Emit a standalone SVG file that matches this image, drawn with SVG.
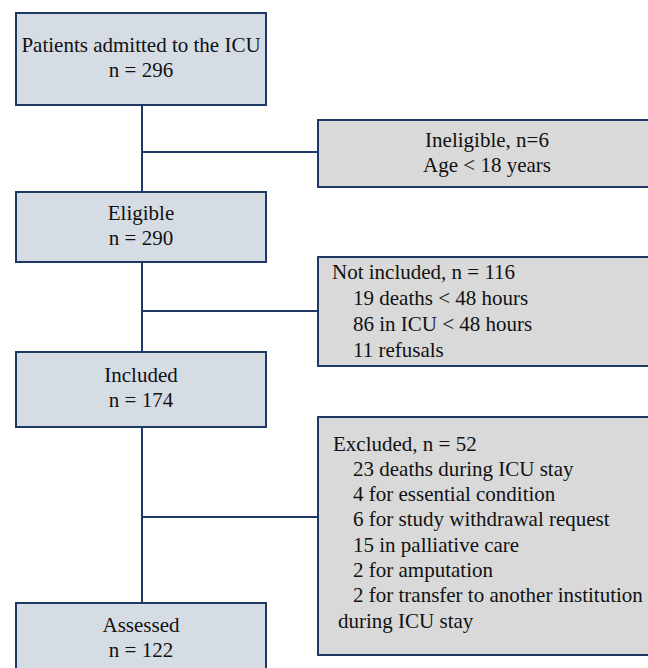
<svg xmlns="http://www.w3.org/2000/svg" width="648" height="668" viewBox="0 0 648 668">
<style>
text{font-family:"Liberation Serif","DejaVu Serif",serif;font-size:21px;fill:#111}
.c{text-anchor:middle}
.main{fill:#d6dce4;stroke:#1f3864;stroke-width:2}
.side{fill:#d9d9d9;stroke:#1f3864;stroke-width:2}
.ln{stroke:#1f3864;stroke-width:2;fill:none}
</style>
<rect width="648" height="668" fill="#fff"/>
<g id="connectors">
<line class="ln" x1="142" y1="105" x2="142" y2="603"/>
<line class="ln" x1="142" y1="152" x2="318" y2="152"/>
<line class="ln" x1="142" y1="311" x2="318" y2="311"/>
<line class="ln" x1="142" y1="517" x2="318" y2="517"/>
</g>
<g id="admitted">
<rect class="main" x="16" y="13" width="250" height="92"/>
<text class="c" x="141" y="52">Patients admitted to the ICU</text>
<text class="c" x="141" y="77">n = 296</text>
</g>
<g id="ineligible">
<rect class="side" x="318" y="120" width="340" height="67"/>
<text class="c" x="487" y="147">Ineligible, n=6</text>
<text class="c" x="487" y="172">Age &lt; 18 years</text>
</g>
<g id="eligible">
<rect class="main" x="16" y="192" width="250" height="70"/>
<text class="c" x="141" y="220">Eligible</text>
<text class="c" x="141" y="245">n = 290</text>
</g>
<g id="notincluded">
<rect class="side" x="318" y="257" width="340" height="109"/>
<text x="332" y="279">Not included, n = 116</text>
<text x="353" y="305">19 deaths &lt; 48 hours</text>
<text x="353" y="331">86 in ICU &lt; 48 hours</text>
<text x="353" y="357">11 refusals</text>
</g>
<g id="included">
<rect class="main" x="16" y="352" width="250" height="75"/>
<text class="c" x="141" y="382">Included</text>
<text class="c" x="141" y="407">n = 174</text>
</g>
<g id="excluded">
<rect class="side" x="318" y="417" width="340" height="238"/>
<text x="333" y="451">Excluded, n = 52</text>
<text x="353" y="476">23 deaths during ICU stay</text>
<text x="353" y="501">4 for essential condition</text>
<text x="353" y="526">6 for study withdrawal request</text>
<text x="353" y="552">15 in palliative care</text>
<text x="353" y="577">2 for amputation</text>
<text x="353" y="602">2 for transfer to another institution</text>
<text x="338" y="628">during ICU stay</text>
</g>
<g id="assessed">
<rect class="main" x="16" y="603" width="250" height="80"/>
<text class="c" x="141" y="632">Assessed</text>
<text class="c" x="141" y="657">n = 122</text>
</g>
</svg>
